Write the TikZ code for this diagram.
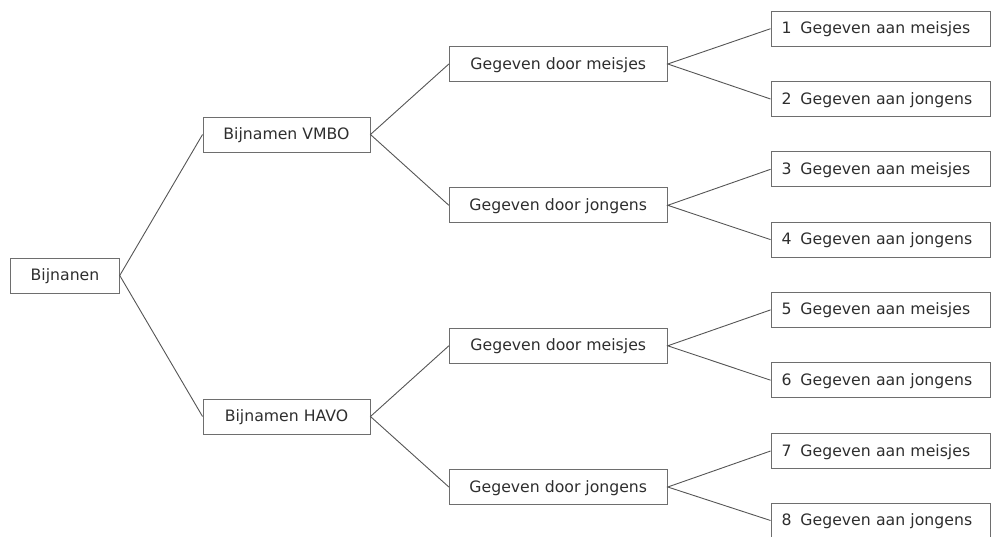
\documentclass[tikz,border=0pt]{standalone}
\usepackage{fontspec}
\setmainfont{DejaVu Sans}
\begin{document}
\begin{tikzpicture}[x=1pt,y=-1pt,
  box/.style={draw=boxgray,line width=0.9pt,text=txtgray,font=\fontsize{15.7}{18}\selectfont,minimum height=35pt,inner sep=0pt,anchor=center,text height=10pt,text depth=0pt},
  leaf/.style={box,text width=198pt,align=left,inner xsep=10.5pt,minimum width=219pt},
  conn/.style={draw=linegray,line width=0.9pt}]
\definecolor{boxgray}{HTML}{6E6E6E}
\definecolor{linegray}{HTML}{555555}
\definecolor{txtgray}{HTML}{2E2E2E}
\useasboundingbox (0,0) rectangle (991,536);
\node[box,minimum width=108.6pt] (root) at (65,275.5) {Bijnanen};
\node[box,minimum width=167pt] (vmbo) at (286.5,134.5) {Bijnamen VMBO};
\node[box,minimum width=167pt] (havo) at (286.5,416.5) {Bijnamen HAVO};
\node[box,minimum width=218pt] (vm) at (558.3,64) {Gegeven door meisjes};
\node[box,minimum width=218pt] (vj) at (558.3,205.3) {Gegeven door jongens};
\node[box,minimum width=218pt] (hm) at (558.3,345.8) {Gegeven door meisjes};
\node[box,minimum width=218pt] (hj) at (558.3,487) {Gegeven door jongens};
\node[leaf] (l1) at (880.5,28.7) {1\hspace{9pt}Gegeven aan meisjes};
\node[leaf] (l2) at (880.5,99) {2\hspace{9pt}Gegeven aan jongens};
\node[leaf] (l3) at (880.5,169.3) {3\hspace{9pt}Gegeven aan meisjes};
\node[leaf] (l4) at (880.5,239.6) {4\hspace{9pt}Gegeven aan jongens};
\node[leaf] (l5) at (880.5,309.9) {5\hspace{9pt}Gegeven aan meisjes};
\node[leaf] (l6) at (880.5,380.2) {6\hspace{9pt}Gegeven aan jongens};
\node[leaf] (l7) at (880.5,451) {7\hspace{9pt}Gegeven aan meisjes};
\node[leaf] (l8) at (880.5,520.5) {8\hspace{9pt}Gegeven aan jongens};
\draw[conn] (vmbo.west) -- (root.east) -- (havo.west);
\draw[conn] (vm.west) -- (vmbo.east) -- (vj.west);
\draw[conn] (hm.west) -- (havo.east) -- (hj.west);
\draw[conn] (l1.west) -- (vm.east) -- (l2.west);
\draw[conn] (l3.west) -- (vj.east) -- (l4.west);
\draw[conn] (l5.west) -- (hm.east) -- (l6.west);
\draw[conn] (l7.west) -- (hj.east) -- (l8.west);
\end{tikzpicture}
\end{document}
